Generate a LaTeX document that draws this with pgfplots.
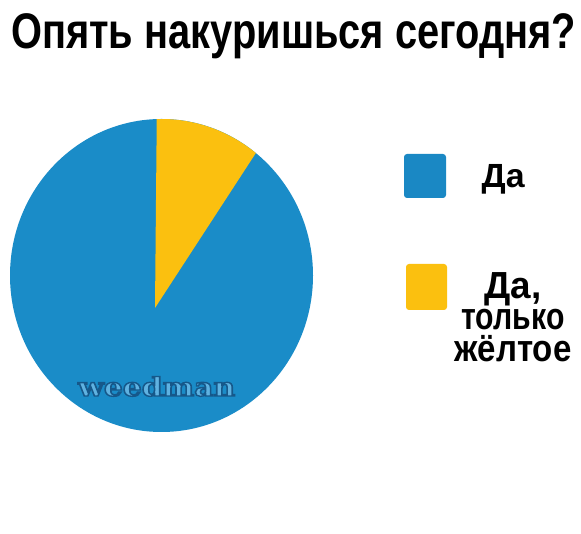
\documentclass[border=0pt]{standalone}
\usepackage{fontspec}
\setmainfont{Liberation Sans}
\newfontfamily\wmfont{DejaVu Serif}
\usepackage{graphicx}
\usepackage{pgfplots}
\usepackage{pgfplotstable}
\pgfplotsset{compat=1.18}
\definecolor{pieblue}{RGB}{26,140,200}
\definecolor{legblue}{RGB}{26,136,196}
\definecolor{pieyellow}{RGB}{251,192,15}
\definecolor{wmlight}{RGB}{95,178,225}

\pgfplotstableread{
label value
Da 88.8
Yellow 11.2
}\piedata

% outlined watermark text: fill + stroke render mode
\newcommand\wm{\special{pdf:literal direct 2 Tr 1.3 w 0.086 0.345 0.541 RG}%
  \resizebox{157pt}{19.5pt}{\wmfont\fontsize{24}{24}\selectfont\bfseries weedman}%
  \special{pdf:literal direct 0 Tr}}

\begin{document}%
\begin{tikzpicture}
\pgfplotstablegetelem{1}{value}\of\piedata
\pgfmathsetmacro\yshare{\pgfplotsretval}
\pgfmathsetmacro\yend{91.8}
\pgfmathsetmacro\ystart{\yend-3.6*\yshare}
\begin{axis}[x=1pt,y=1pt,xmin=0,xmax=581,ymin=0,ymax=534,hide axis,clip=false]
\coordinate (ll) at (axis cs:0,0);
\coordinate (ur) at (axis cs:581,534);
\fill[white] (axis cs:0,0) rectangle (axis cs:581,534);
% pie
\fill[pieblue] (axis cs:161.5,258.5) ellipse [x radius=151.5pt, y radius=156.5pt];
\fill[pieyellow] (axis cs:155,226) -- (axis cs:{161.5+151.5*cos(\yend)},{258.5+156.5*sin(\yend)})
  arc[start angle=\yend, end angle=\ystart, x radius=151.5pt, y radius=156.5pt] -- cycle;
% watermark
\node[anchor=base west, inner sep=0pt, text=wmlight] at (axis cs:78,138) {\wm};
% title
\node[anchor=base west, inner sep=0pt] at (axis cs:11,485)
  {\resizebox{565pt}{\height}{\fontsize{50}{50}\selectfont\bfseries Опять накуришься сегодня?}};
% legend
\fill[legblue, rounded corners=3pt] (axis cs:404,336) rectangle (axis cs:446,380);
\fill[pieyellow, rounded corners=3pt] (axis cs:406,224) rectangle (axis cs:447,270);
\node[anchor=base west, inner sep=0pt] at (axis cs:481.5,346)
  {\resizebox{43pt}{\height}{\fontsize{33.5}{33.5}\selectfont\bfseries Да}};
\node[anchor=north, inner sep=0pt, align=center, font=\fontsize{37.7}{31.5}\selectfont\bfseries]
  at (axis cs:513,262)
  {\resizebox{57pt}{\height}{Да,}\\\resizebox{103pt}{\height}{только}\\\resizebox{117pt}{\height}{жёлтое}};
\end{axis}
\pgfresetboundingbox
\path[use as bounding box] (ll) rectangle (ur);
\end{tikzpicture}%
\end{document}
